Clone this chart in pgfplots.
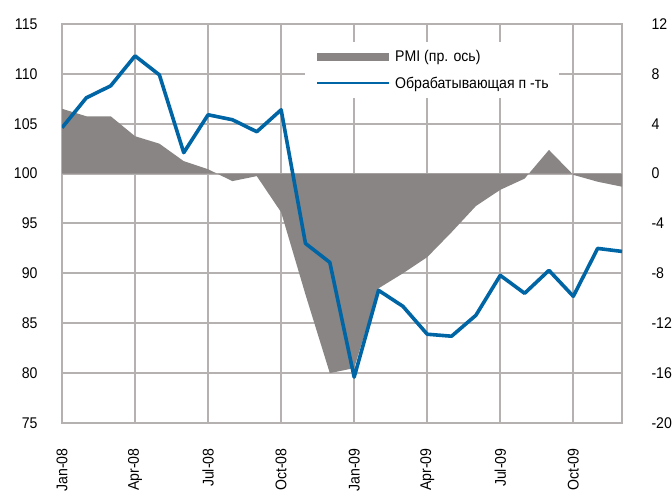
\documentclass[border=0pt]{standalone}
\usepackage{pgfplots}
\pgfplotsset{compat=1.18}
\usepackage{fontspec}
\setmainfont{Liberation Sans}[FakeStretch=0.91]
\definecolor{gridc}{RGB}{180,177,176}
\definecolor{pmigray}{RGB}{137,133,132}
\definecolor{lineblue}{RGB}{0,101,164}
\newcommand{\lblfont}{\fontsize{15.5}{18}\selectfont}
\begin{document}
\begin{tikzpicture}
\path[use as bounding box] (0pt,0pt) rectangle (672pt,494pt);
% right axis: PMI area + grid
\begin{axis}[
  at={(62pt,71pt)}, anchor=south west, scale only axis,
  width=560pt, height=399pt,
  xmin=0, xmax=23, ymin=-20, ymax=12,
  xtick={0,3,...,21}, xticklabels={},
  ytick={-20,-16,...,12},
  grid=major, grid style={line width=2pt, color=gridc},
  axis line style={line width=2pt, color=gridc},
  major tick length=0pt,
  yticklabel pos=right,
  yticklabel style={anchor=west, font=\lblfont, xshift=26pt},
  /pgf/number format/assume math mode=true,
]
\addplot[fill=pmigray, draw=none] coordinates {
(0,5.2) (1,4.6) (2,4.6) (3,3.0) (4,2.4) (5,1.0) (6,0.35) (7,-0.6) (8,-0.2)
(9,-3.1) (10,-9.7) (11,-16.0) (12,-15.6) (13,-9.2) (14,-8.0) (15,-6.7)
(16,-4.7) (17,-2.6) (18,-1.3) (19,-0.4) (20,1.9) (21,-0.1) (22,-0.65) (23,-1.05)
} \closedcycle;
\end{axis}
% left axis: line
\begin{axis}[
  at={(62pt,71pt)}, anchor=south west, scale only axis,
  width=560pt, height=399pt,
  xmin=0, xmax=23, ymin=75, ymax=115,
  axis x line*=bottom, axis y line*=left,
  axis line style={draw=none},
  xtick={0,3,...,21},
  xticklabels={Jan-08,Apr-08,Jul-08,Oct-08,Jan-09,Apr-09,Jul-09,Oct-09},
  xticklabel style={rotate=90, anchor=east, font=\lblfont},
  xticklabel shift=22pt,
  ytick={75,80,...,115},
  yticklabel style={font=\lblfont},
  yticklabel shift=21pt,
  major tick length=0pt,
  /pgf/number format/assume math mode=true,
  legend cell align=left,
  legend style={at={(axis cs:9.98,113.2)}, anchor=north west, draw=none,
    fill=white, font=\lblfont, inner xsep=8pt, inner ysep=6pt, row sep=10pt},
]
\addlegendimage{legend image code/.code={\draw[line width=8pt, pmigray] (0pt,0pt) -- (72pt,0pt);}}
\addlegendentry{PMI (пр. ось)}
\addplot[lineblue, line width=3.6pt, line join=round,
  legend image code/.code={\draw[line width=2pt, lineblue] (0pt,0pt) -- (72pt,0pt);}]
  coordinates {
(0,104.6) (1,107.6) (2,108.8) (3,111.8) (4,109.9) (5,102.1) (6,105.9) (7,105.4)
(8,104.2) (9,106.4) (10,93.0) (11,91.1) (12,79.6) (13,88.3) (14,86.7) (15,83.9)
(16,83.7) (17,85.8) (18,89.8) (19,88.0) (20,90.3) (21,87.7) (22,92.5) (23,92.2)
};
\addlegendentry{Обрабатывающая п -ть}
\end{axis}
\end{tikzpicture}
\end{document}
